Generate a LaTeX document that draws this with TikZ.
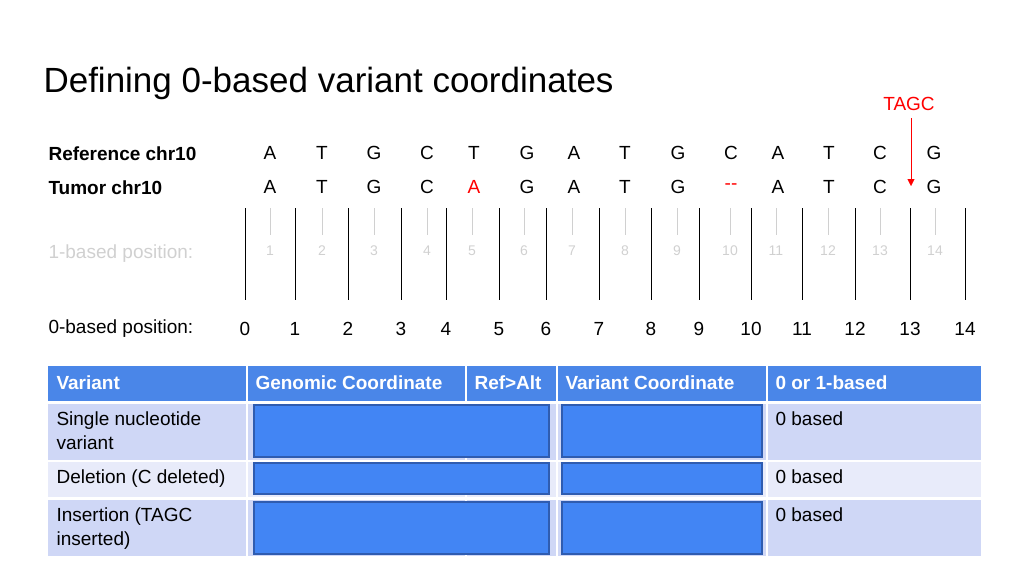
\documentclass[tikz,border=0pt]{standalone}
\usepackage{fontspec}
\setmainfont{Liberation Sans}
\usetikzlibrary{arrows.meta}
\definecolor{hdblue}{HTML}{4A86E8}
\definecolor{rowa}{HTML}{CFD7F6}
\definecolor{rowb}{HTML}{E8EBFA}
\definecolor{boxblue}{HTML}{4285F4}
\definecolor{boxedge}{HTML}{2F5CB0}
\definecolor{faint}{HTML}{D0D0D0}
\tikzset{
  base/.style={font=\fontsize{19}{22}\selectfont},
  lab/.style={font=\fontsize{19}{22}\selectfont,anchor=west},
  hd/.style={font=\bfseries\fontsize{19}{22}\selectfont,text=white,anchor=west},
  cell/.style={font=\fontsize{19}{24}\selectfont,anchor=north west,align=left},
  fillbox/.style={fill=boxblue,draw=boxedge,line width=1.5pt}
}
\begin{document}
\begin{tikzpicture}[x=1pt,y=-1pt]
\useasboundingbox (0,0) rectangle (1024,576);
\node[anchor=west,font=\fontsize{35}{40}\selectfont] (title) at (40,83) {Defining 0-based variant coordinates};
\node[lab,font=\bfseries\fontsize{19}{22}\selectfont] (reflab) at (45,154) {Reference chr10};
\node[lab,font=\bfseries\fontsize{19}{22}\selectfont] (tumlab) at (45,188) {Tumor chr10};
\node[lab,text=faint] (onelab) at (45,254) {1-based position:};
\node[lab] (zerolab) at (45,329) {0-based position:};
% sequences
\foreach \x/\r/\t/\c [count=\i] in {270/A/A/black,322/T/T/black,374/G/G/black,427/C/C/black,474/T/A/red,527/G/G/black,574/A/A/black,625/T/T/black,678/G/G/black,731/C/{-}{-}/red,778/A/A/black,829/T/T/black,880/C/C/black,934/G/G/black}{
  \node[base] (r\i) at (\x,153) {\r};
  \node[base,text=\c] (t\i) at (\x,187) {\t};
}
% ruler
\foreach \x [count=\i from 0] in {245,295,348,401,446,499,546,599,651,699,751,802,855,910,965}{
  \draw (\x,208) -- (\x,300);
  \node[base] (z\i) at (\x,329) {\i};
}
\foreach \x [count=\i] in {270,322,374,427,472,524,572,625,677,730,776,828,880,935}{
  \draw[faint] (\x,208) -- (\x,235);
  \node[font=\fontsize{14}{16}\selectfont,text=faint] (o\i) at (\x,251) {\i};
}
\node[base,text=red] (ins) at (909,104) {TAGC};
\coordinate (insstart) at (911,118);
\coordinate (insend) at (911,186);
\draw[red,-{Triangle[length=7pt,width=7pt]}] (insstart) -- (insend);
% table
\fill[hdblue] (48,366) rectangle (981,401);
\fill[rowa] (48,404) rectangle (981,460);
\fill[rowb] (48,462) rectangle (981,497);
\fill[rowa] (48,500) rectangle (981,556);
\foreach \x in {247,466,557,767}{
  \draw[white,line width=2pt] (\x,366) -- (\x,556);
}
\foreach \y in {402,461,498}{
  \draw[white,line width=2pt] (48,\y) -- (981,\y);
}
\node[hd] (h1) at (53,383) {Variant};
\node[hd] (h2) at (252,383) {Genomic Coordinate};
\node[hd] (h3) at (471,383) {Ref>Alt};
\node[hd] (h4) at (562,383) {Variant Coordinate};
\node[hd] (h5) at (772,383) {0 or 1-based};
\node[cell] (c1) at (53,408) {Single nucleotide\\variant};
\node[cell] (c2) at (53,466) {Deletion (C deleted)};
\node[cell] (c3) at (53,504) {Insertion (TAGC\\inserted)};
\foreach \a/\b [count=\i] in {405/457,463/494,502/554}{
  \draw[fillbox] (254,\a) rectangle (549,\b);
  \draw[fillbox] (562,\a) rectangle (762,\b);
}
\node[cell] (d1) at (772,408) {0 based};
\node[cell] (d2) at (772,466) {0 based};
\node[cell] (d3) at (772,504) {0 based};
\end{tikzpicture}
\end{document}
